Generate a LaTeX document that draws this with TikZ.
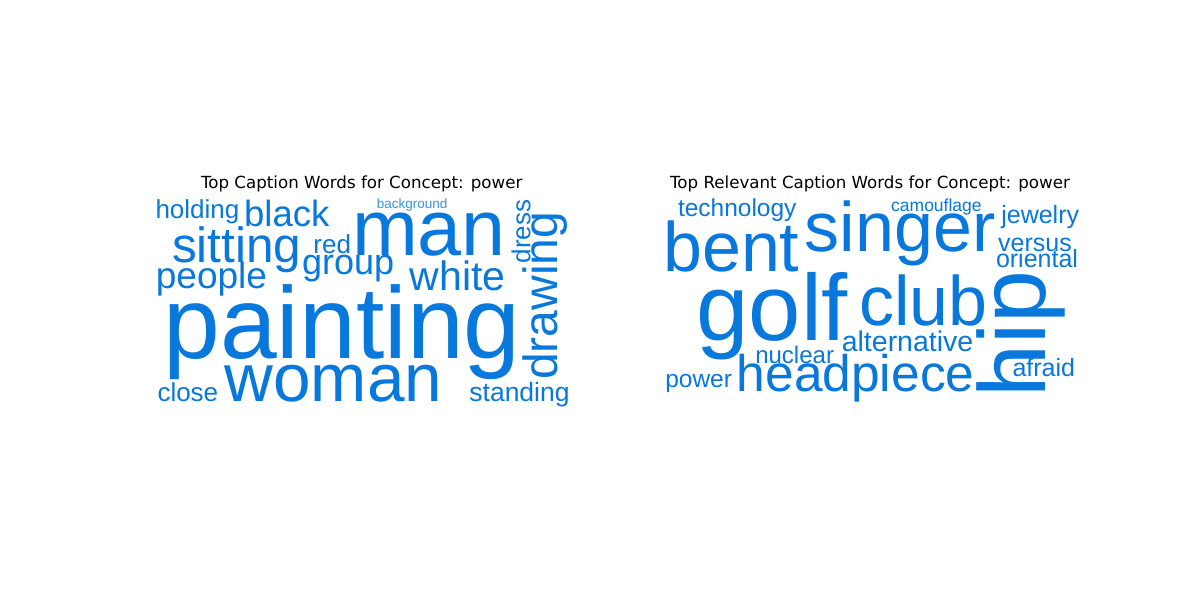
\documentclass[tikz,border=0pt]{standalone}
\usepackage{fontspec}
\setmainfont{Liberation Sans}
\newfontfamily\ttlfamily{DejaVu Sans}
\usetikzlibrary{positioning}
\definecolor{wcblue}{RGB}{8,120,220}
\newcommand{\wcsize}[1]{\fontsize{#1}{#1}\selectfont}
\tikzset{
  word/.style={font=\wcsize{#1}, text=wcblue, inner sep=0pt, anchor=base west},
  vword/.style={word=#1, rotate=90},
  ttl/.style={font=\ttlfamily\fontsize{16.67}{20}\selectfont, inner sep=0pt, anchor=base}
}
\begin{document}
\begin{tikzpicture}[x=1pt, y=-1pt]
  \fill[white] (0,0) rectangle (1200,600);
  \useasboundingbox (0,0) rectangle (1200,600);

  % left cloud
  \node[ttl] (ttlL) at (361.7,188.3) {Top Caption Words for Concept: power};
  \node[word=26]   (holding)    at (155.3,218)   {holding};
  \node[word=36.5] (black)      at (244,226)     {black};
  \node[word=13.5, text=wcblue!80] (background) at (376.6,208.3) {background};
  \node[word=79]   (man)        at (351.8,255)   {man};
  \node[vword=26]  (dress)      at (530.3,263.5) {dress};
  \node[vword=48]  (drawing)    at (557.7,380)   {drawing};
  \node[word=49.5] (sitting)    at (171.8,262.7) {sitting};
  \node[word=26]   (red)        at (313.2,253.3) {red};
  \node[word=36]   (group)      at (301.8,274)   {group};
  \node[word=37]   (people)     at (155.7,288.3) {people};
  \node[word=41]   (white)      at (409.7,290)   {white};
  \node[word=102]  (painting)   at (163.3,358.3) {painting};
  \node[word=67.5] (woman)      at (224.5,401.5) {woman};
  \node[word=26]   (close)      at (157.3,401)   {close};
  \node[word=26.5] (standing)   at (469.2,401)   {standing};

  % right cloud
  \node[ttl] (ttlR) at (870,188.3) {Top Relevant Caption Words for Concept: power};
  \node[word=24.5] (technology)  at (677.8,216)   {technology};
  \node[word=70]   (bent)        at (663,271.7)   {bent};
  \node[word=70]   (singer)      at (804.6,251.7) {singer};
  \node[word=17.5] (camouflage)  at (891,211.7)   {camouflage};
  \node[word=25]   (jewelry)     at (1001.1,223.3) {jewelry};
  \node[word=25]   (versus)      at (998,251.7)   {versus};
  \node[word=25]   (oriental)    at (995.8,267.3) {oriental};
  \node[word=94]   (golf)        at (696.3,340)   {golf};
  \node[word=70]   (club)        at (858.9,325)   {club};
  \node[vword=95]  (hip)         at (1045,398)    {hip};
  \node[word=28.5] (alternative) at (841.6,351.7) {alternative};
  \node[word=24]   (nuclear)     at (755.1,363.3) {nuclear};
  \node[word=24.5] (power)       at (665.1,387.7) {power};
  \node[word=51.5] (headpiece)   at (736.6,391.7) {headpiece};
  \node[word=25]   (afraid)      at (1012.3,376.7) {afraid};
\end{tikzpicture}
\end{document}
